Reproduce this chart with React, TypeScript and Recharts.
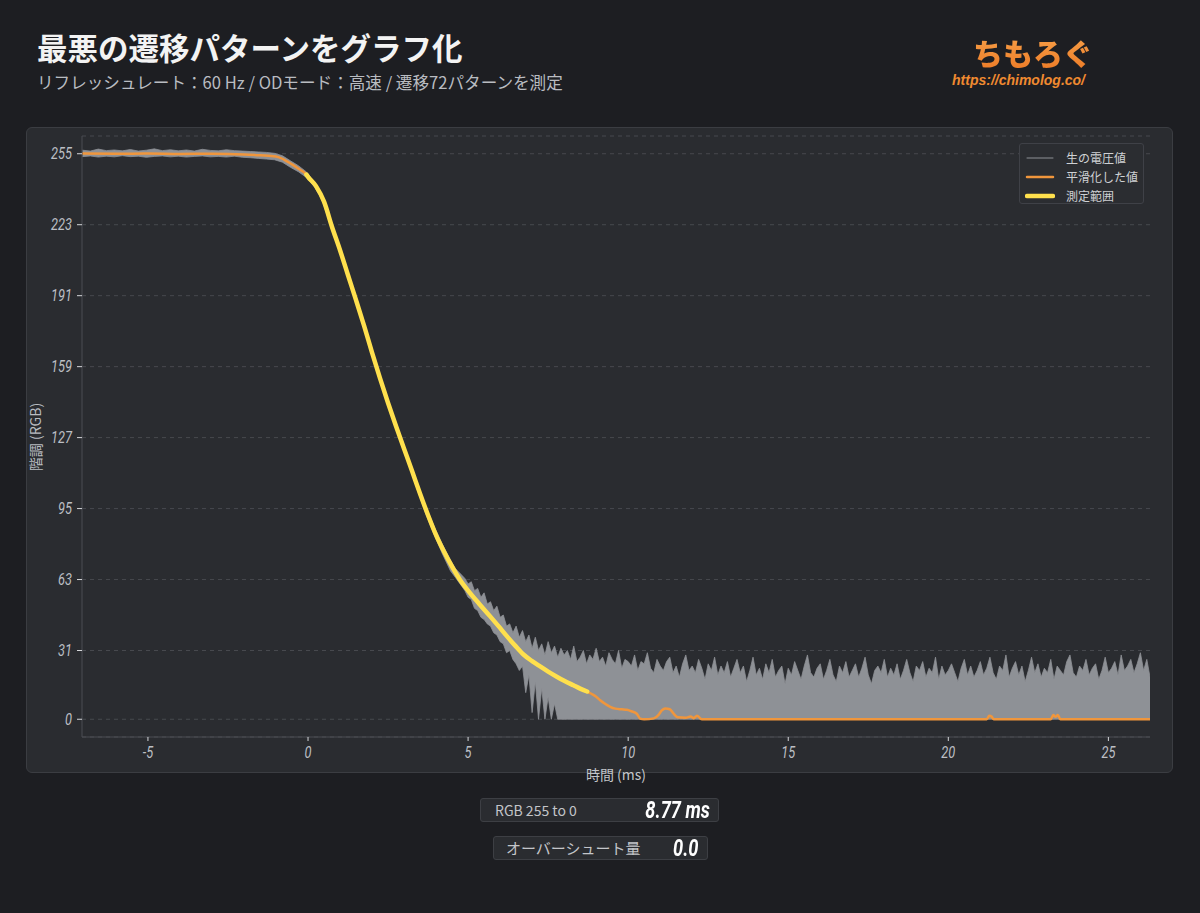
import React from 'react';
import { ComposedChart, Line, Area, XAxis, YAxis, CartesianGrid, Legend } from 'recharts';

// ---- Smoothed curve (time in ms, RGB level) ----
const SMOOTH_TIME = [
  -7.06, -6, -5, -4, -3, -2, -1.5, -1.0, -0.75, -0.5, -0.25, -0.05, 0, 0.25, 0.5, 0.75, 1.0, 1.25, 1.5, 1.75,
  2.0, 2.25, 2.5, 2.75, 3.0, 3.25, 3.5, 3.75, 4.0, 4.25, 4.5, 4.75, 5.0, 5.35, 5.69, 5.95, 6.21, 6.47, 6.73, 7.0,
  7.25, 7.5, 7.77, 8.0, 8.29, 8.5, 8.72, 8.85, 9.0, 9.125, 9.3, 9.44, 9.6, 9.8, 9.96, 10.1, 10.27, 10.375, 10.5, 10.8,
  10.95, 11.05, 11.16, 11.3, 11.42, 11.55, 11.8, 11.95, 12.05, 12.15, 12.3, 21.2, 21.28, 21.35, 21.42, 23.2, 23.28, 23.35, 23.42, 23.5,
  26.3,
];
const SMOOTH_VALUES = [
  255.1, 255, 255.1, 254.9, 255, 254.7, 254.3, 253.8, 252.4, 250.2, 247.8, 245.6, 244.6, 240.4, 233.4, 222, 211.5, 200.2, 189, 177.5,
  165.3, 153.7, 142.6, 132.1, 122, 111.9, 101.7, 92, 83, 75.5, 68.8, 62.8, 58, 52, 46.4, 42, 37.5, 33.2, 29.2, 26.2,
  23.8, 21.5, 19.2, 17.4, 15.3, 13.8, 12.5, 11.5, 10.2, 8.6, 6.8, 5.6, 4.8, 4.5, 4.3, 3.6, 2.5, 0.3, 0, 0.4,
  2, 4, 4.9, 4.5, 2.5, 0.9, 0.7, 1.3, 0.5, 1.6, 0, 0, 1.6, 1.2, 0, 0, 1.9, 1.1, 1.9, 0,
  0,
];

// ---- Measurement window ----
const MEASURE_START = -0.05;
const MEASURE_END = 8.72;

// ---- Raw voltage signal envelope (low / high), sampled on three grids ----
const RAW_A_T0 = -7.05;
const RAW_A_STEP = 0.25;
const RAW_A_HIGH = [256.6, 256.2, 257.1, 256.4, 256.7, 256.3, 256.9, 256.2, 256.6, 257.2, 256.4, 256.8, 256.3, 256.7, 256.2, 257, 256.5, 256.3, 256.8, 256.4, 256.2, 256, 255.8, 255.6, 255.2, 254.1, 251.8];
const RAW_A_LOW = [253.7, 254, 253.5, 253.9, 253.6, 254.1, 253.7, 253.9, 253.4, 253.8, 254, 253.6, 253.9, 253.5, 253.8, 254, 253.6, 253.8, 253.5, 253.9, 253.4, 253.2, 252.9, 252.6, 252.3, 251.2, 248.9];

const RAW_B_T0 = -0.3;
const RAW_B_STEP = 0.25;
const RAW_B_HIGH = [249.6, 246.8, 242.3, 236.1, 225.2, 214.7, 203.4, 192.1, 180.9, 168.7, 156.9, 145.9, 135.2, 125.3, 115.4, 105.1, 95.2, 86.6, 78.8, 71.8];
const RAW_B_LOW = [246.9, 244.3, 240.1, 233.8, 222.9, 212.4, 201.2, 189.9, 178.6, 166.3, 154.6, 143.5, 132.8, 122.7, 112.6, 102.1, 91.8, 82.9, 74.5, 66.9];

const RAW_C_T0 = 4.6;
const RAW_C_STEP = 0.1;
const RAW_C_HIGH = [
  68, 66.5, 65, 63.5, 61, 62, 58, 59, 55, 57,
  52, 53, 49, 51, 46, 47, 42, 43, 39, 42,
  37, 40, 35, 38, 32, 37, 31, 34, 29, 35,
  30, 33, 28, 32, 29,
  31, 27, 33, 26, 28, 31, 25, 29, 27, 32,
  26, 28, 24, 30, 27, 25, 31, 23, 27, 26,
  24, 29, 22, 26, 25, 30, 23, 21, 27, 24,
  22, 26, 28, 21, 24, 19, 25, 29, 22, 24,
  21, 27, 23, 18, 25, 22, 28, 20, 24, 21,
  26, 19, 23, 27, 21, 24, 17, 22, 28, 20,
  23, 18, 25, 21, 27, 19, 22, 24, 16, 23,
  20, 26, 22, 18, 24, 29, 21, 19, 23, 25,
  18, 22, 27, 20, 17, 24, 21, 26, 19, 22,
  25, 19, 23, 28, 20, 16, 22, 24, 21, 27,
  19, 23, 20, 25, 18, 22, 27, 21, 17, 24,
  22, 26, 19, 23, 21, 28, 18, 24, 20, 22,
  25, 21, 17, 23, 27, 20, 24, 19, 22, 26,
  20, 23, 28, 21, 18, 24, 22, 29, 19, 23,
  26, 20, 24, 17, 22, 28, 21, 25, 19, 23,
  21, 27, 18, 24, 22, 20, 26, 29, 21, 19,
  24, 22, 27, 20, 23, 25, 18, 22, 28, 21,
  23, 26, 20, 29, 22, 24, 27, 21, 25, 30,
  22, 27, 19,
];
const RAW_C_LOW = [
  64, 62, 60, 58, 55, 54, 50, 49, 46, 45,
  43, 42, 39, 38, 35, 34, 30, 31, 27, 25,
  22, 24, 12, 20, 3, 17, 0, 14, 0, 10,
  0, 7, 0, 0, 0,
];
const RAW_FLOOR = 0;

// ---- Axes ----
const X_DOMAIN = [-7.06, 26.3];
const X_TICKS = [-5, 0, 5, 10, 15, 20, 25];
const Y_DOMAIN = [-8, 263];
const Y_TICKS = [0, 31, 63, 95, 127, 159, 191, 223, 255];

// ---- Labels ----
const TITLE = '最悪の遷移パターンをグラフ化';
const SUBTITLE = 'リフレッシュレート：60 Hz / ODモード：高速 / 遷移72パターンを測定';
const X_LABEL = '時間 (ms)';
const Y_LABEL = '階調 (RGB)';
const LEGEND_ITEMS = [
  { name: '生の電圧値', color: '#8e9196', width: 1 },
  { name: '平滑化した値', color: '#f0963c', width: 2.5 },
  { name: '測定範囲', color: '#ffe04d', width: 4.5 },
];
const RESULT_LABEL = 'RGB 255 to 0';
const RESULT_VALUE = '8.77 ms';
const OVERSHOOT_LABEL = 'オーバーシュート量';
const OVERSHOOT_VALUE = '0.0';

const r3 = (n: number) => Math.round(n * 1000) / 1000;

const buildRaw = () => {
  const rows: { t: number; range: [number, number] }[] = [];
  RAW_A_HIGH.forEach((hi, i) => rows.push({ t: r3(RAW_A_T0 + i * RAW_A_STEP), range: [RAW_A_LOW[i], hi] }));
  RAW_B_HIGH.forEach((hi, i) => rows.push({ t: r3(RAW_B_T0 + i * RAW_B_STEP), range: [RAW_B_LOW[i], hi] }));
  RAW_C_HIGH.forEach((hi, i) =>
    rows.push({ t: r3(RAW_C_T0 + i * RAW_C_STEP), range: [i < RAW_C_LOW.length ? RAW_C_LOW[i] : RAW_FLOOR, hi] })
  );
  return rows;
};

const rawRows = buildRaw();
const smoothRows = SMOOTH_TIME.map((t, i) => ({ t, v: SMOOTH_VALUES[i] }));
const measureRows = smoothRows.filter((r) => r.t >= MEASURE_START && r.t <= MEASURE_END);

const CJK = '"Noto Sans CJK JP", "Noto Sans", sans-serif';
const NUM = 'Roboto, "Liberation Sans", sans-serif';

const XTick = (props: any) => {
  const { x, y, payload } = props;
  return (
    <g transform={`translate(${x},${y})`}>
      <text transform="scale(0.8,1)" textAnchor="middle" dy="0.71em" fill="#bcbfc4" fontSize={16} fontStyle="italic" fontFamily={NUM}>
        {payload.value}
      </text>
    </g>
  );
};

const YTick = (props: any) => {
  const { x, y, payload } = props;
  return (
    <g transform={`translate(${x},${y})`}>
      <text transform="scale(0.8,1)" textAnchor="end" dy="0.355em" fill="#bcbfc4" fontSize={16} fontStyle="italic" fontFamily={NUM}>
        {payload.value}
      </text>
    </g>
  );
};

const LegendBox = () => (
  <div
    style={{
      width: 125,
      height: 61,
      boxSizing: 'border-box',
      border: '1px solid #3f4147',
      borderRadius: 3,
      background: '#2b2d31',
      padding: '4px 0 0 5px',
      fontFamily: CJK,
      fontSize: 12,
      color: '#cfd1d4',
    }}
  >
    {LEGEND_ITEMS.map((it) => (
      <div key={it.name} style={{ display: 'flex', alignItems: 'center', height: 19 }}>
        <svg width={30} height={10} style={{ marginRight: 11 }}>
          <line x1={2} y1={5} x2={28} y2={5} stroke={it.color} strokeWidth={it.width} strokeLinecap="round" />
        </svg>
        <span>{it.name}</span>
      </div>
    ))}
  </div>
);

export default function App() {
  return (
    <div style={{ position: 'absolute', left: 0, top: 0, width: 1200, height: 913, background: '#1d1e22', overflow: 'hidden', fontFamily: CJK }}>
      {/* Title */}
      <div style={{ position: 'absolute', left: 37, top: 27, fontSize: 30.5, fontWeight: 700, color: '#f3f3f3', lineHeight: '40px', whiteSpace: 'nowrap' }}>
        {TITLE}
      </div>
      <div style={{ position: 'absolute', left: 37, top: 70, fontSize: 16.6, color: '#b9bcc1', lineHeight: '24px', whiteSpace: 'nowrap' }}>
        {SUBTITLE}
      </div>

      {/* Logo text */}
      <div
        style={{
          position: 'absolute',
          left: 973,
          top: 32,
          fontSize: 30,
          fontWeight: 900,
          lineHeight: '40px',
          background: 'linear-gradient(#f7a24a, #ec7a26)',
          WebkitBackgroundClip: 'text',
          backgroundClip: 'text',
          color: 'transparent',
          whiteSpace: 'nowrap',
        }}
      >
        ちもろぐ
      </div>
      <div
        style={{
          position: 'absolute',
          left: 952,
          top: 71,
          fontSize: 14,
          fontWeight: 700,
          fontStyle: 'italic',
          fontFamily: '"Liberation Sans", Arial, sans-serif',
          color: '#f08a30',
          lineHeight: '18px',
          whiteSpace: 'nowrap',
        }}
      >
        https://chimolog.co/
      </div>

      {/* Panel */}
      <div
        style={{
          position: 'absolute',
          left: 26,
          top: 127,
          width: 1147,
          height: 646,
          boxSizing: 'border-box',
          background: '#2a2c30',
          border: '1px solid #3b3d42',
          borderRadius: 6,
        }}
      />
      <div style={{ position: 'absolute', left: 26, top: 127, width: 1147, height: 646 }}>
        <ComposedChart width={1147} height={646} margin={{ top: 9, right: 23, bottom: 6, left: 0 }}>
          <CartesianGrid vertical={false} stroke="#47494e" strokeDasharray="4 4" />
          <XAxis
            type="number"
            dataKey="t"
            domain={X_DOMAIN}
            ticks={X_TICKS}
            allowDataOverflow
            height={30}
            axisLine={{ stroke: '#4b4d52' }}
            tickLine={{ stroke: '#d4d6d9' }}
            tickSize={4}
            tickMargin={6}
            tick={<XTick />}
          />
          <YAxis
            type="number"
            domain={Y_DOMAIN}
            ticks={Y_TICKS}
            allowDataOverflow
            width={56}
            axisLine={{ stroke: '#4b4d52' }}
            tickLine={{ stroke: '#d4d6d9' }}
            tickSize={5}
            tickMargin={5}
            tick={<YTick />}
          />
          <Area
            data={rawRows}
            dataKey="range"
            type="linear"
            stroke="#8e9196"
            strokeWidth={0.8}
            fill="#8e9196"
            fillOpacity={1}
            isAnimationActive={false}
            dot={false}
            activeDot={false}
            name="生の電圧値"
          />
          <Line
            data={smoothRows}
            dataKey="v"
            type="monotone"
            stroke="#f0963c"
            strokeWidth={2.5}
            dot={false}
            activeDot={false}
            isAnimationActive={false}
            name="平滑化した値"
          />
          <Line
            data={measureRows}
            dataKey="v"
            type="monotone"
            stroke="#ffe04d"
            strokeWidth={4.5}
            strokeLinecap="round"
            dot={false}
            activeDot={false}
            isAnimationActive={false}
            name="測定範囲"
          />
          <Legend
            layout="vertical"
            align="center"
            verticalAlign="middle"
            content={() => <LegendBox />}
            wrapperStyle={{ position: 'absolute', left: 993, top: 16, right: 'auto', bottom: 'auto', width: 125, height: 61 }}
          />
        </ComposedChart>
      </div>

      {/* Axis titles */}
      <div style={{ position: 'absolute', left: 616, top: 774, transform: 'translate(-50%, -50%)', fontSize: 14, color: '#c3c5c9', whiteSpace: 'nowrap', lineHeight: '18px' }}>
        {X_LABEL}
      </div>
      <div style={{ position: 'absolute', left: 35, top: 437, transform: 'translate(-50%, -50%) rotate(-90deg)', fontSize: 14, color: '#b9bcc1', whiteSpace: 'nowrap', lineHeight: '16px' }}>
        {Y_LABEL}
      </div>

      {/* Result boxes */}
      <div
        style={{
          position: 'absolute', left: 480, top: 798, width: 239, height: 24, boxSizing: 'border-box',
          background: '#2a2c30', border: '1px solid #3d3f44', borderRadius: 3,
        }}
      >
        <span style={{ position: 'absolute', left: 14, top: 0, lineHeight: '22px', fontSize: 14, color: '#c3c5c9', whiteSpace: 'nowrap' }}>{RESULT_LABEL}</span>
        <span
          style={{
            position: 'absolute', right: 8, top: -3, lineHeight: '28px', fontSize: 24, fontWeight: 700, fontStyle: 'italic',
            fontFamily: NUM, color: '#ffffff', whiteSpace: 'nowrap', transform: 'scaleX(0.76)', transformOrigin: 'right center',
          }}
        >
          {RESULT_VALUE}
        </span>
      </div>
      <div
        style={{
          position: 'absolute', left: 493, top: 836, width: 215, height: 24, boxSizing: 'border-box',
          background: '#2a2c30', border: '1px solid #3d3f44', borderRadius: 3,
        }}
      >
        <span style={{ position: 'absolute', left: 12, top: 0, lineHeight: '22px', fontSize: 15, color: '#c3c5c9', whiteSpace: 'nowrap' }}>{OVERSHOOT_LABEL}</span>
        <span
          style={{
            position: 'absolute', right: 9, top: -3, lineHeight: '28px', fontSize: 24, fontWeight: 700, fontStyle: 'italic',
            fontFamily: NUM, color: '#ffffff', whiteSpace: 'nowrap', transform: 'scaleX(0.76)', transformOrigin: 'right center',
          }}
        >
          {OVERSHOOT_VALUE}
        </span>
      </div>
    </div>
  );
}
